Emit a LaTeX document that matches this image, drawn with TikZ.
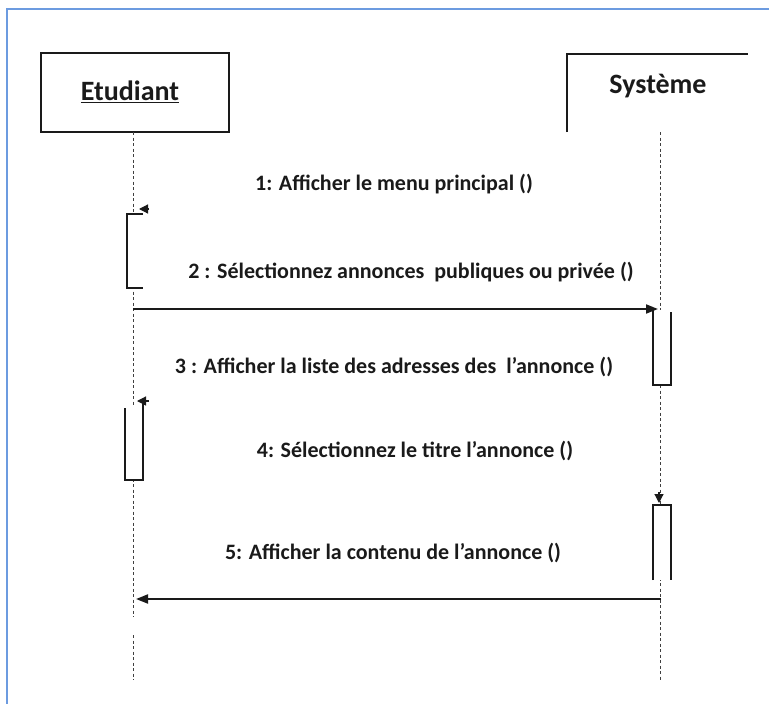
\documentclass[tikz,border=0pt]{standalone}
\usepackage{fontspec}
\setmainfont{Carlito}
\usetikzlibrary{arrows.meta}

\definecolor{frameblue}{HTML}{6C9BE0}
\definecolor{ink}{HTML}{1A1A1A}

\begin{document}
\begin{tikzpicture}[x=1pt,y=-1pt,
  framestyle/.style={draw=frameblue,line width=2pt},
  objbox/.style={draw=ink,line width=1.8pt},
  objname/.style={font=\fontsize{28}{32}\selectfont\bfseries,text=ink,inner sep=0pt},
  lifeline/.style={draw=black!75,line width=1pt,dash pattern=on 3pt off 2.5pt},
  activation/.style={draw=ink,line width=1.6pt,fill=white},
  msg/.style={draw=ink,line width=1.8pt},
  msgtip/.style={-{Triangle[length=12pt,width=9pt]}},
  smalltip/.style={-{Triangle[length=9pt,width=9pt]}},
  msglabel/.style={font=\fontsize{22}{26}\selectfont\bfseries,text=ink,inner sep=0pt}
]
\useasboundingbox (0,0) rectangle (769,704);
\clip (0,0) rectangle (769,704);

% outer frame (runs past the right and bottom edges)
\draw[framestyle] (7,9) rectangle (800,740);

% participants
\node[objbox,minimum width=188pt,minimum height=79pt,inner sep=0pt] (etu) at (135,92.5) {};
\node[objname] (etuname) at (130,92) {\underline{Etudiant}};

\node[minimum width=181pt,minimum height=78pt,inner sep=0pt] (sys) at (657.5,93) {};
\draw[objbox] (sys.south west) -- (sys.north west) -- (sys.north east);
\node[objname] (sysname) at (658,86) {Système};

% lifeline anchors
\coordinate (etop) at (133,132);
\coordinate (egapA) at (133,617);
\coordinate (egapB) at (133,635);
\coordinate (ebot) at (133,680);
\coordinate (stop) at (660,132);
\coordinate (sbot) at (660,680);

\draw[lifeline] (etop) -- (egapA);
\draw[lifeline] (egapB) -- (ebot);
\draw[lifeline] (stop) -- (sbot);

% activations on Etudiant
\fill[white] (127,214) rectangle (143,288);
\draw[activation] (143,214) -- (127,214) -- (127,288) -- (143,288);

\fill[white] (125,408) rectangle (143,480);
\draw[activation] (125,408) -- (125,480) -- (143,480) -- (143,402);

% activations on Systeme
\fill[white] (653,310) rectangle (671,385);
\draw[activation] (653,309) -- (653,385) -- (671,385) -- (671,312);

\fill[white] (653,505) rectangle (671,580);
\draw[activation] (653,580) -- (653,505) -- (671,505) -- (671,580);

% message ends
\coordinate (m1a) at (149,209);
\coordinate (m1b) at (139,209);
\coordinate (m2a) at (133,309);
\coordinate (m2b) at (658,309);
\coordinate (m3a) at (149,401);
\coordinate (m3b) at (137,401);
\coordinate (m4a) at (659,492);
\coordinate (m4b) at (659,503);
\coordinate (m5a) at (661,599);
\coordinate (m5b) at (136,599);

% messages
\draw[msg,smalltip,line width=1.2pt] (m1a) -- (m1b);
\draw[msg,msgtip] (m2a) -- (m2b);
\draw[msg,smalltip,line width=1.2pt] (m3a) -- (m3b);
\draw[msg,smalltip,line width=1.2pt] (m4a) -- (m4b);
\draw[msg,msgtip] (m5a) -- (m5b);

% message labels
\node[msglabel] (l1) at (394,184) {1: Afficher le menu principal ()};
\node[msglabel] (l2) at (411,272) {2 : Sélectionnez annonces\ \ publiques ou privée ()};
\node[msglabel] (l3) at (394,367) {3 : Afficher la liste des adresses des\ \ l’annonce ()};
\node[msglabel] (l4) at (415,451) {4: Sélectionnez le titre l’annonce ()};
\node[msglabel] (l5) at (393,553) {5: Afficher la contenu de l’annonce ()};
\end{tikzpicture}
\end{document}
